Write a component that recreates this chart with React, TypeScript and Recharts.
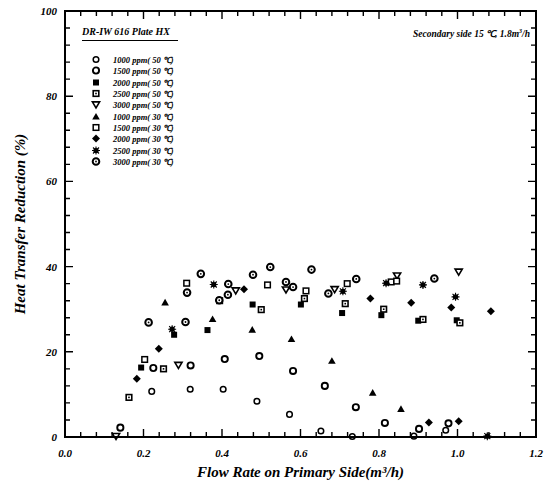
import React from 'react';
import { ScatterChart, Scatter, XAxis, YAxis } from 'recharts';

const FONT = '"Liberation Serif", "Times New Roman", serif';

// flow rate on primary side (m3/h), heat transfer reduction (%)
const c1000_50 = [[0.221, 10.7], [0.319, 11.2], [0.403, 11.2], [0.489, 8.4], [0.572, 5.3], [0.652, 1.4], [0.732, 0.1], [0.889, 0.2], [0.970, 1.6]];
const c1500_50 = [[0.141, 2.2], [0.225, 16.2], [0.320, 16.8], [0.407, 18.3], [0.495, 19.0], [0.581, 15.5], [0.662, 12.0], [0.741, 7.0], [0.815, 3.3], [0.902, 1.9], [0.977, 3.2]];
const c2000_50 = [[0.194, 16.3], [0.278, 24.0], [0.363, 25.1], [0.478, 31.1], [0.601, 31.1], [0.706, 29.1], [0.806, 28.6], [0.900, 27.3], [0.998, 27.4]];
const c2500_50 = [[0.163, 9.3], [0.251, 16.0], [0.500, 29.9], [0.610, 32.5], [0.714, 31.3], [0.812, 30.0], [0.912, 27.6], [1.006, 26.8]];
const c3000_50 = [[0.13, 0.2], [0.289, 16.9], [0.435, 34.4], [0.563, 34.6], [0.687, 34.7], [0.846, 37.9], [1.003, 38.8]];
const c1000_30 = [[0.255, 31.6], [0.376, 27.7], [0.477, 25.2], [0.577, 23.0], [0.680, 17.9], [0.784, 10.4], [0.856, 6.6]];
const c1500_30 = [[0.203, 18.2], [0.310, 36.1], [0.394, 32.0], [0.516, 35.7], [0.614, 34.3], [0.719, 36.0], [0.831, 36.4], [0.845, 36.6]];
const c2000_30 = [[0.183, 13.7], [0.239, 20.7], [0.456, 34.7], [0.778, 32.5], [0.882, 31.5], [0.927, 3.4], [0.984, 30.4], [1.003, 3.7], [1.085, 29.5]];
const c2500_30 = [[0.273, 25.3], [0.379, 35.8], [0.708, 34.2], [0.818, 36.1], [0.912, 35.7], [0.995, 32.9], [1.076, 0.2]];
const c3000_30 = [[0.213, 26.9], [0.307, 27.0], [0.311, 33.9], [0.346, 38.3], [0.393, 32.1], [0.415, 33.4], [0.416, 35.9], [0.479, 38.1], [0.523, 39.9], [0.563, 36.4], [0.581, 35.2], [0.628, 39.3], [0.671, 33.7], [0.742, 37.1], [0.941, 37.2]];

const seriesList = [
  { name: '1000 ppm( 50 ℃)', kind: 'circle', data: c1000_50 },
  { name: '1500 ppm( 50 ℃)', kind: 'ring', data: c1500_50 },
  { name: '2000 ppm( 50 ℃)', kind: 'fsquare', data: c2000_50 },
  { name: '2500 ppm( 50 ℃)', kind: 'csquare', data: c2500_50 },
  { name: '3000 ppm( 50 ℃)', kind: 'dtri', data: c3000_50 },
  { name: '1000 ppm( 30 ℃)', kind: 'ftri', data: c1000_30 },
  { name: '1500 ppm( 30 ℃)', kind: 'osquare', data: c1500_30 },
  { name: '2000 ppm( 30 ℃)', kind: 'fdiamond', data: c2000_30 },
  { name: '2500 ppm( 30 ℃)', kind: 'star', data: c2500_30 },
  { name: '3000 ppm( 30 ℃)', kind: 'target', data: c3000_30 },
];

const X_MAX = 1.2;
const Y_MAX = 100;
const xTicks = Array.from({ length: 31 }, (_, i) => Math.round(i * 4) / 100);
const yTicks = Array.from({ length: 26 }, (_, i) => i * 4);
const isMajorX = (v: number) => Math.abs(v * 5 - Math.round(v * 5)) < 1e-6;
const isMajorY = (v: number) => v % 20 === 0;

// layout
const W = 548;
const H = 488;
const M = { top: 10, right: 11, bottom: 0, left: 0 };
const Y_W = 65;
const R_W = 1;
const X_H = 51;
const T_H = 1;
const PL = M.left + Y_W;
const PR = W - M.right - R_W;
const PT = M.top + T_H;
const PB = H - M.bottom - X_H;

function Marker({ kind, cx, cy }: { kind: string; cx: number; cy: number }) {
  const k = '#000';
  switch (kind) {
    case 'circle':
      return <circle cx={cx} cy={cy} r={2.8} fill="#fff" stroke={k} strokeWidth={1.5} />;
    case 'ring':
      return <circle cx={cx} cy={cy} r={3.1} fill="#fff" stroke={k} strokeWidth={1.9} />;
    case 'fsquare':
      return <rect x={cx - 3} y={cy - 3} width={6} height={6} fill={k} />;
    case 'csquare':
      return (
        <g>
          <rect x={cx - 2.8} y={cy - 2.8} width={5.6} height={5.6} fill="#fff" stroke={k} strokeWidth={1.6} />
          <rect x={cx - 0.8} y={cy - 0.8} width={1.6} height={1.6} fill={k} />
        </g>
      );
    case 'osquare':
      return <rect x={cx - 2.8} y={cy - 2.8} width={5.6} height={5.6} fill="#fff" stroke={k} strokeWidth={1.5} />;
    case 'dtri':
      return <polygon points={`${cx - 3.6},${cy - 2.6} ${cx + 3.6},${cy - 2.6} ${cx},${cy + 3.4}`} fill="#fff" stroke={k} strokeWidth={1.6} />;
    case 'ftri':
      return <polygon points={`${cx - 3.8},${cy + 3} ${cx + 3.8},${cy + 3} ${cx},${cy - 3.6}`} fill={k} />;
    case 'fdiamond':
      return <polygon points={`${cx},${cy - 4} ${cx + 4},${cy} ${cx},${cy + 4} ${cx - 4},${cy}`} fill={k} />;
    case 'star':
      return (
        <g>
          <circle cx={cx} cy={cy} r={2.6} fill={k} />
          <path d={`M${cx - 4},${cy} H${cx + 4} M${cx},${cy - 4} V${cy + 4} M${cx - 3},${cy - 3} L${cx + 3},${cy + 3} M${cx - 3},${cy + 3} L${cx + 3},${cy - 3}`} stroke={k} strokeWidth={1.1} />
        </g>
      );
    case 'target':
      return (
        <g>
          <circle cx={cx} cy={cy} r={3.3} fill="#fff" stroke={k} strokeWidth={2} />
          <circle cx={cx} cy={cy} r={0.9} fill={k} />
        </g>
      );
    default:
      return null;
  }
}

const BottomTick = (p: any) => {
  const v = p.payload.value;
  if (!isMajorX(v)) return <g />;
  return (
    <text x={p.x} y={p.y + 20} textAnchor="middle" fill="#000" fontFamily={FONT} fontWeight={700} fontStyle="italic" fontSize={11}>
      {v.toFixed(1)}
    </text>
  );
};

const LeftTick = (p: any) => {
  const v = p.payload.value;
  if (!isMajorY(v)) return <g />;
  return (
    <text x={p.x - 8} y={p.y + 4} textAnchor="end" fill="#000" fontFamily={FONT} fontWeight={700} fontStyle="italic" fontSize={11}>
      {v}
    </text>
  );
};

// box frame with inward ticks on all four sides, on the same axis ranges
function Frame() {
  const sx = (v: number) => PL + (v / X_MAX) * (PR - PL);
  const sy = (v: number) => PB - (v / Y_MAX) * (PB - PT);
  let d = '';
  xTicks.forEach((v) => {
    const len = isMajorX(v) ? 8 : 5;
    const x = sx(v);
    d += `M${x},${PB}V${PB - len}M${x},${PT}V${PT + len}`;
  });
  yTicks.forEach((v) => {
    const len = isMajorY(v) ? 8 : 5;
    const y = sy(v);
    d += `M${PL},${y}H${PL + len}M${PR},${y}H${PR - len}`;
  });
  return (
    <svg width={W} height={H} style={{ position: 'absolute', left: 0, top: 0, pointerEvents: 'none' }}>
      <path d={d} stroke="#000" strokeWidth={1.4} fill="none" />
      <rect x={PL} y={PT} width={PR - PL} height={PB - PT} fill="none" stroke="#000" strokeWidth={2} />
    </svg>
  );
}

const titleStyle = { fontFamily: FONT, fontWeight: 700, fontStyle: 'italic', fontSize: 15, fill: '#000' };

export default function App() {
  return (
    <div style={{ position: 'absolute', left: 0, top: 0, width: W, height: H }}>
      <div style={{ position: 'absolute', left: 0, top: 0 }}>
        <ScatterChart width={W} height={H} margin={M}>
          <XAxis
            xAxisId="b"
            type="number"
            dataKey="x"
            domain={[0, X_MAX]}
            ticks={xTicks}
            interval={0}
            tickSize={0}
            tickMargin={0}
            tickLine={false}
            height={X_H}
            stroke="#000"
            axisLine={{ stroke: '#000', strokeWidth: 2 }}
            tick={BottomTick}
            label={{ value: 'Flow Rate on Primary Side(m³/h)', position: 'insideBottom', offset: 11, style: titleStyle }}
          />
          <XAxis xAxisId="t" orientation="top" type="number" dataKey="x" domain={[0, X_MAX]} height={T_H} stroke="#000" axisLine={{ stroke: '#000', strokeWidth: 2 }} tickLine={false} tick={false} />
          <YAxis
            yAxisId="l"
            type="number"
            dataKey="y"
            domain={[0, Y_MAX]}
            ticks={yTicks}
            interval={0}
            tickSize={0}
            tickMargin={0}
            tickLine={false}
            width={Y_W}
            stroke="#000"
            axisLine={{ stroke: '#000', strokeWidth: 2 }}
            tick={LeftTick}
            label={{ value: 'Heat Transfer Reduction (%)', angle: -90, position: 'insideLeft', offset: 20, style: { ...titleStyle, textAnchor: 'middle' } }}
          />
          <YAxis yAxisId="r" orientation="right" type="number" dataKey="y" domain={[0, Y_MAX]} width={R_W} stroke="#000" axisLine={{ stroke: '#000', strokeWidth: 2 }} tickLine={false} tick={false} />
          {seriesList.map((s) => (
            <Scatter
              key={s.name}
              name={s.name}
              xAxisId="b"
              yAxisId="l"
              data={s.data.map(([x, y]) => ({ x, y }))}
              isAnimationActive={false}
              shape={(p: any) => <Marker kind={s.kind} cx={p.cx} cy={p.cy} />}
            />
          ))}
        </ScatterChart>
      </div>

      <Frame />

      <div style={{ position: 'absolute', left: 82, top: 26, fontFamily: FONT, fontWeight: 700, fontStyle: 'italic', color: '#000' }}>
        <div style={{ fontSize: 10, borderBottom: '1.5px solid #000', width: 96, paddingBottom: 3, whiteSpace: 'nowrap' }}>DR-IW 616 Plate HX</div>
        <div style={{ marginTop: 13 }}>
          {seriesList.map((s) => (
            <div key={s.name} style={{ display: 'flex', alignItems: 'center', height: 11.3, fontSize: 8.5, whiteSpace: 'nowrap' }}>
              <svg width={28} height={11} style={{ flex: 'none' }}>
                <Marker kind={s.kind} cx={14} cy={5.5} />
              </svg>
              <span style={{ marginLeft: 3 }}>{s.name}</span>
            </div>
          ))}
        </div>
      </div>

      <div style={{ position: 'absolute', right: 18, top: 27, fontFamily: FONT, fontWeight: 700, fontStyle: 'italic', fontSize: 9.5, color: '#000', whiteSpace: 'nowrap' }}>
        Secondary side 15 ℃, 1.8m<sup style={{ fontSize: 6 }}>3</sup>/h
      </div>
    </div>
  );
}
